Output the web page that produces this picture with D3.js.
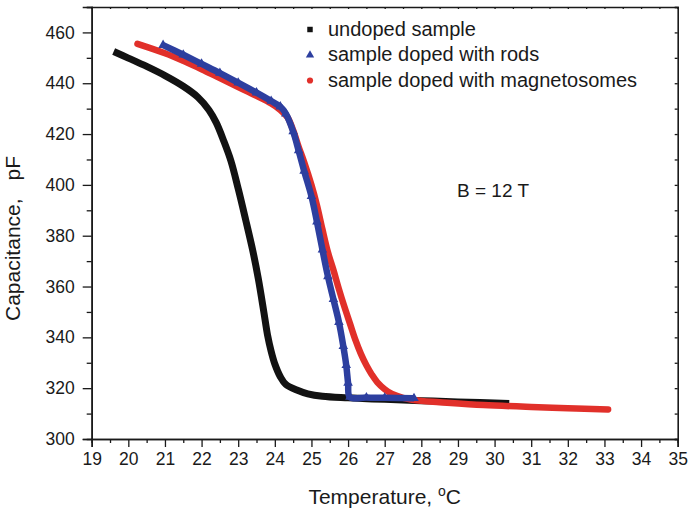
<!DOCTYPE html>
<html>
<head>
<meta charset="utf-8">
<script src="https://cdn.jsdelivr.net/npm/d3@7"></script>
<style>
  body { margin: 0; background: #fff; }
  text { font-family: "Liberation Sans", Arial, sans-serif; fill: #1a1a1a; }
</style>
</head>
<body>
<div id="container"></div>
<script>
// values
const undopedT = [19.6, 20.0, 20.5, 21.0, 21.5, 21.9, 22.2, 22.4, 22.6, 22.8, 23.0, 23.2, 23.4, 23.55, 23.7, 23.8, 23.9, 24.0, 24.15, 24.3, 24.6, 24.9, 25.3, 26.0, 27.0, 28.0, 29.0, 30.4];
const undopedC = [452.5, 449.9, 446.6, 443.0, 438.8, 434.5, 429.5, 424.5, 417.5, 409.5, 398.5, 386.5, 374, 363, 350, 341, 334.5, 329.5, 324.5, 321.5, 319.3, 317.8, 316.8, 316.2, 315.6, 315.1, 314.6, 314.0];

const rodsT = [20.95, 21.5, 22.0, 22.5, 23.0, 23.5, 23.9, 24.15, 24.3, 24.5, 24.65, 24.8, 25.0, 25.15, 25.3, 25.45, 25.6, 25.75, 25.87, 25.95, 26.0, 26.05, 26.5, 27.0, 27.8];
const rodsC = [455.0, 451.2, 447.6, 444.0, 440.2, 436.3, 433.0, 430.8, 428.0, 421.0, 413.5, 405.5, 395.5, 385.5, 374.5, 364, 355, 346, 336.5, 329, 322, 316.5, 316.3, 316.2, 316.0];

const magT = [20.25, 21.0, 21.5, 22.0, 22.5, 23.0, 23.5, 23.9, 24.15, 24.35, 24.5, 24.65, 24.8, 25.0, 25.15, 25.3, 25.45, 25.6, 25.75, 25.9, 26.05, 26.2, 26.35, 26.5, 26.65, 26.8, 27.0, 27.2, 27.5, 28.0, 28.5, 29.7, 31.0, 32.0, 33.1];
const magC = [455.5, 451.8, 448.8, 445.5, 442.0, 438.5, 435.0, 432.0, 429.5, 426.5, 421.5, 415.0, 409.0, 400.0, 392.0, 382.5, 373.5, 366.5, 359.0, 352.0, 345.5, 339.0, 333.5, 329.0, 325.3, 322.3, 319.6, 317.7, 316.2, 315.0, 314.5, 313.4, 312.6, 312.1, 311.6];

const legendLabels = ["undoped sample", "sample doped with rods", "sample doped with magnetosomes"];
const xTicks = d3.range(19, 36, 1);
const yTicks = d3.range(300, 461, 20);

const width = 690, height = 511;
const margin = {top: 7, right: 12.3, bottom: 72, left: 91.7};

const svg = d3.select("#container").append("svg")
    .attr("width", width)
    .attr("height", height);

const x = d3.scaleLinear().domain([19, 35]).range([margin.left, width - margin.right]);
const y = d3.scaleLinear().domain([300, 470]).range([height - margin.bottom, margin.top]);

const axisColor = "#1a1a1a";

// bottom axis, major + minor ticks outward
svg.append("g")
    .attr("transform", `translate(0,${y(300)})`)
    .call(d3.axisBottom(x).tickValues(xTicks).tickFormat(d3.format("d")).tickSize(8).tickPadding(6));
svg.append("g")
    .attr("transform", `translate(0,${y(300)})`)
    .call(d3.axisBottom(x).tickValues(d3.range(19.5, 35, 1)).tickSize(4).tickFormat(""));

svg.append("g")
    .attr("transform", `translate(${x(19)},0)`)
    .call(d3.axisLeft(y).tickValues(yTicks).tickSize(9).tickPadding(8));
svg.append("g")
    .attr("transform", `translate(${x(19)},0)`)
    .call(d3.axisLeft(y).tickValues(d3.range(310, 471, 20)).tickSize(5).tickFormat(""));

// top and right axes, tiny inward ticks
svg.append("g")
    .attr("transform", `translate(0,${y(470)})`)
    .call(d3.axisTop(x).tickValues(d3.range(19, 35.1, 0.5)).tickSize(-2).tickFormat(""));
svg.append("g")
    .attr("transform", `translate(${x(35)},0)`)
    .call(d3.axisRight(y).tickValues(d3.range(300, 471, 10)).tickSize(-3).tickFormat(""));

svg.selectAll(".domain").attr("stroke", axisColor).attr("stroke-width", 1.6);
svg.selectAll(".tick line").attr("stroke", axisColor).attr("stroke-width", 1.3);
svg.selectAll(".tick text").style("font-size", "17.5px").attr("fill", "#1a1a1a");

// axis titles
svg.append("text")
    .attr("x", (x(19) + x(35)) / 2)
    .attr("y", 504)
    .attr("text-anchor", "middle")
    .style("font-size", "21px")
    .html('Temperature, <tspan dy="-8" font-size="14px">o</tspan><tspan dy="8">C</tspan>');

svg.append("text")
    .attr("transform", `translate(20,321) rotate(-90)`)
    .attr("text-anchor", "start")
    .style("font-size", "21px")
    .html('Capacitance,<tspan dx="18">pF</tspan>');

// series
const series = [
  {T: undopedT, C: undopedC, color: "#121212", w: 7, cap: "butt"},
  {T: magT, C: magC, color: "#e1302a", w: 6.5, cap: "round"},
  {T: rodsT, C: rodsC, color: "#2d3f9f", w: 6.5, cap: "butt"}
];

const line = d3.line()
    .x(d => x(d[0]))
    .y(d => y(d[1]))
    .curve(d3.curveCatmullRom.alpha(0.5));

series.forEach(s => {
  svg.append("path")
      .datum(d3.zip(s.T, s.C))
      .attr("d", line)
      .attr("fill", "none")
      .attr("stroke", s.color)
      .attr("stroke-width", s.w)
      .attr("stroke-linecap", s.cap)
      .attr("stroke-linejoin", "round");
});

// triangle markers on the rods series
svg.append("g").selectAll("path")
    .data(d3.zip(rodsT, rodsC))
    .join("path")
    .attr("transform", d => `translate(${x(d[0])},${y(d[1])})`)
    .attr("d", d3.symbol(d3.symbolTriangle, 40))
    .attr("fill", "#2d3f9f");

// legend
const legendSymbols = [d3.symbolSquare, d3.symbolTriangle, d3.symbolCircle];
const legendColors = ["#121212", "#2d3f9f", "#e1302a"];
const legend = svg.append("g");
legendLabels.forEach((lab, i) => {
  const ly = 35.5 + i * 25.5;
  legend.append("path")
      .attr("transform", `translate(310,${ly - 6})`)
      .attr("d", d3.symbol(legendSymbols[i], 30))
      .attr("fill", legendColors[i]);
  legend.append("text")
      .attr("x", 328)
      .attr("y", ly)
      .style("font-size", "20px")
      .text(lab);
});

svg.append("text")
    .attr("x", 457)
    .attr("y", 197)
    .style("font-size", "19px")
    .text("B = 12 T");
</script>
</body>
</html>
